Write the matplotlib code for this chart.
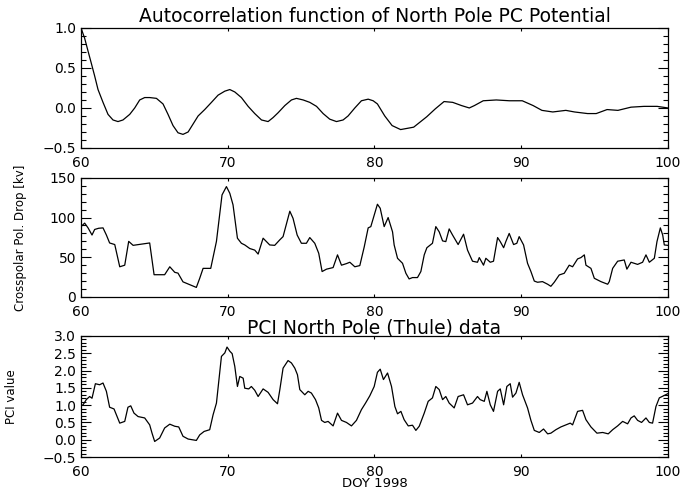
import matplotlib
matplotlib.use("Agg")
import matplotlib.pyplot as plt
import numpy as np
from matplotlib.ticker import MultipleLocator

# Autocorrelation of North Pole PC potential (lag in DOY)
acf_doy = [60.00, 60.25, 60.48, 60.70, 60.93, 61.16, 61.50, 61.84, 62.18, 62.52,
           62.86, 63.32, 63.66, 64.00, 64.34, 64.68, 65.14, 65.59, 65.93, 66.27,
           66.61, 66.95, 67.30, 67.64, 67.98, 68.43, 68.89, 69.34, 69.80, 70.14,
           70.48, 70.93, 71.39, 71.84, 72.30, 72.75, 73.09, 73.43, 73.89, 74.34,
           74.68, 75.14, 75.59, 76.05, 76.50, 76.95, 77.41, 77.86, 78.20, 78.66,
           79.11, 79.57, 79.91, 80.20, 80.70, 81.20, 81.78, 82.67, 83.56, 84.15,
           84.74, 85.33, 85.93, 86.46, 86.81, 87.41, 88.30, 89.19, 90.07, 90.81,
           91.41, 92.15, 93.04, 93.63, 94.52, 95.11, 95.85, 96.59, 97.48, 98.37,
           99.26, 100.0]
acf_val = [1.00, 0.87, 0.71, 0.56, 0.40, 0.23, 0.07, -0.08, -0.15, -0.17,
           -0.15, -0.08, 0.00, 0.10, 0.13, 0.13, 0.12, 0.05, -0.08, -0.22,
           -0.31, -0.33, -0.30, -0.20, -0.10, -0.02, 0.07, 0.16, 0.21, 0.23,
           0.20, 0.13, 0.02, -0.07, -0.15, -0.17, -0.12, -0.06, 0.03, 0.10,
           0.12, 0.10, 0.07, 0.02, -0.07, -0.14, -0.17, -0.15, -0.10, 0.00,
           0.09, 0.11, 0.09, 0.05, -0.10, -0.22, -0.27, -0.24, -0.11, -0.01,
           0.08, 0.07, 0.03, 0.00, 0.03, 0.09, 0.10, 0.09, 0.09, 0.03,
           -0.03, -0.05, -0.03, -0.05, -0.07, -0.07, -0.02, -0.03, 0.01, 0.02,
           0.02, 0.00]

# Cross polar cap potential drop [kV]
pot_doy = [60.00, 60.25, 60.48, 60.75, 60.93, 61.20, 61.50, 61.73, 61.95, 62.30,
           62.64, 62.98, 63.25, 63.55, 64.68, 64.98, 65.70, 66.05, 66.39, 66.61,
           66.95, 67.86, 68.09, 68.32, 68.84, 69.23, 69.61, 69.91, 70.14, 70.36,
           70.66, 70.93, 71.16, 71.50, 71.84, 72.07, 72.41, 72.86, 73.20, 73.55,
           73.77, 74.23, 74.45, 74.73, 75.02, 75.36, 75.59, 75.93, 76.20, 76.43,
           76.73, 77.18, 77.48, 77.75, 78.09, 78.32, 78.66, 79.00, 79.30, 79.57,
           79.75, 79.98, 80.20, 80.39, 80.66, 80.93, 81.23, 81.34, 81.57, 81.91,
           82.14, 82.36, 82.59, 82.93, 83.16, 83.39, 83.57, 83.95, 84.18, 84.41,
           84.64, 84.86, 85.09, 85.32, 85.70, 86.07, 86.34, 86.68, 87.02, 87.14,
           87.43, 87.59, 87.89, 88.11, 88.39, 88.57, 88.80, 88.95, 89.18, 89.48,
           89.70, 89.86, 90.16, 90.43, 90.66, 90.89, 91.11, 91.45, 91.80, 92.02,
           92.25, 92.59, 92.93, 93.27, 93.50, 93.84, 94.07, 94.30, 94.41, 94.75,
           94.98, 95.43, 95.89, 96.00, 96.23, 96.57, 97.02, 97.20, 97.48, 97.93,
           98.27, 98.50, 98.73, 99.07, 99.25, 99.48, 99.64, 99.75, 99.98]
pot_val = [88.6, 93.0, 87.0, 78.0, 85.0, 86.5, 87.0, 78.0, 68.0, 66.0,
           38.0, 40.0, 70.0, 65.0, 68.0, 28.0, 28.0, 38.0, 31.0, 30.0,
           19.0, 12.0, 23.5, 36.0, 36.0, 70.0, 128.5, 139.0, 130.6, 116.0,
           74.0, 67.6, 65.5, 61.0, 59.0, 54.0, 74.0, 65.5, 65.0, 72.0,
           76.0, 108.0, 99.0, 78.0, 67.6, 67.6, 74.8, 67.6, 55.0, 32.0,
           35.0, 37.0, 53.0, 40.0, 42.0, 43.7, 38.0, 39.5, 63.0, 87.0,
           88.6, 103.0, 116.8, 111.7, 88.6, 100.0, 82.0, 65.5, 48.7, 42.4,
           29.8, 22.7, 24.4, 24.4, 32.0, 53.0, 62.0, 67.6, 88.6, 82.0,
           70.6, 69.7, 85.7, 78.0, 66.0, 79.0, 59.0, 45.0, 43.7, 49.6,
           40.0, 48.7, 43.7, 45.0, 74.8, 69.7, 62.0, 69.7, 80.0, 66.0,
           67.6, 76.0, 65.5, 42.4, 32.0, 20.0, 18.5, 19.3, 16.0, 13.4,
           18.5, 27.7, 29.8, 40.0, 38.0, 47.9, 49.6, 53.0, 40.0, 36.0,
           23.5, 19.3, 16.0, 19.3, 36.0, 45.0, 46.6, 35.0, 43.7, 41.0,
           43.7, 53.0, 43.7, 48.7, 69.7, 87.0, 78.0, 65.5, 65.0]

# PCI index, Thule
pci_doy = [60.00, 60.14, 60.36, 60.59, 60.75, 60.98, 61.27, 61.50, 61.73, 61.95,
           62.25, 62.41, 62.64, 62.98, 63.20, 63.39, 63.61, 63.89, 64.34, 64.68,
           64.84, 65.02, 65.36, 65.70, 66.05, 66.39, 66.66, 66.95, 67.30, 67.86,
           68.09, 68.39, 68.77, 69.00, 69.23, 69.57, 69.80, 69.95, 70.14, 70.30,
           70.48, 70.66, 70.82, 71.05, 71.16, 71.43, 71.61, 71.84, 72.07, 72.41,
           72.75, 73.09, 73.39, 73.55, 73.77, 74.11, 74.34, 74.57, 74.75, 74.91,
           75.25, 75.48, 75.70, 75.98, 76.20, 76.39, 76.61, 76.84, 77.18, 77.48,
           77.75, 78.09, 78.43, 78.77, 79.11, 79.39, 79.68, 79.98, 80.20, 80.39,
           80.61, 80.89, 81.16, 81.39, 81.57, 81.80, 82.02, 82.30, 82.59, 82.82,
           83.05, 83.39, 83.66, 83.95, 84.18, 84.41, 84.64, 84.86, 85.09, 85.43,
           85.70, 86.07, 86.34, 86.68, 87.02, 87.20, 87.48, 87.66, 87.89, 88.11,
           88.39, 88.57, 88.80, 89.02, 89.25, 89.41, 89.64, 89.86, 90.09, 90.43,
           90.66, 90.89, 91.23, 91.52, 91.80, 92.02, 92.36, 92.70, 93.05, 93.34,
           93.50, 93.84, 94.18, 94.41, 94.75, 95.16, 95.55, 95.93, 96.23, 96.57,
           96.91, 97.25, 97.48, 97.70, 97.93, 98.20, 98.50, 98.73, 98.95, 99.18,
           99.41, 99.70, 99.98]
pci_val = [0.98, 1.01, 1.16, 1.25, 1.20, 1.62, 1.59, 1.64, 1.40, 0.94,
           0.89, 0.72, 0.48, 0.53, 0.94, 0.98, 0.77, 0.67, 0.63, 0.43,
           0.19, -0.05, 0.05, 0.34, 0.45, 0.39, 0.37, 0.10, 0.02, -0.02,
           0.14, 0.24, 0.29, 0.72, 1.06, 2.41, 2.51, 2.68, 2.56, 2.49,
           2.12, 1.54, 1.83, 1.78, 1.49, 1.47, 1.54, 1.43, 1.25, 1.47,
           1.37, 1.16, 1.04, 1.45, 2.07, 2.29, 2.22, 2.07, 1.88, 1.45,
           1.30, 1.40, 1.35, 1.16, 0.92, 0.56, 0.50, 0.53, 0.40, 0.77,
           0.56, 0.50, 0.40, 0.56, 0.87, 1.06, 1.27, 1.54, 1.95, 2.04,
           1.74, 1.93, 1.54, 0.96, 0.75, 0.82, 0.58, 0.40, 0.42, 0.27,
           0.39, 0.77, 1.11, 1.21, 1.54, 1.45, 1.16, 1.25, 1.06, 0.92,
           1.25, 1.30, 1.01, 1.06, 1.25, 1.16, 1.11, 1.40, 1.01, 0.82,
           1.40, 1.47, 1.01, 1.54, 1.62, 1.23, 1.35, 1.66, 1.30, 0.92,
           0.56, 0.27, 0.21, 0.31, 0.17, 0.19, 0.29, 0.37, 0.43, 0.48,
           0.43, 0.82, 0.85, 0.58, 0.37, 0.19, 0.21, 0.17, 0.29, 0.40,
           0.53, 0.46, 0.63, 0.69, 0.56, 0.50, 0.63, 0.50, 0.48, 0.96,
           1.21, 1.27, 1.33]

plt.rcParams['font.family'] = 'DejaVu Sans'
plt.rcParams['font.size'] = 10

fig = plt.figure(figsize=(6.83, 4.90), dpi=100)

# axes boxes in figure fractions (left, bottom, width, height)
ax1 = fig.add_axes([0.1186, 0.698, 0.8594, 0.245])
ax2 = fig.add_axes([0.1186, 0.394, 0.8594, 0.243])
ax3 = fig.add_axes([0.1186, 0.0673, 0.8594, 0.247])


def idl_axes(ax, ymajor, yminor):
    ax.set_xlim(60, 100)
    ax.xaxis.set_major_locator(MultipleLocator(10))
    ax.yaxis.set_major_locator(MultipleLocator(ymajor))
    ax.yaxis.set_minor_locator(MultipleLocator(yminor))
    ax.tick_params(axis='y', which='major', direction='in', length=7.5, width=0.8,
                   left=True, right=True, pad=3.5)
    ax.tick_params(axis='y', which='minor', direction='in', length=3.8, width=0.8,
                   left=True, right=True)
    ax.tick_params(axis='x', which='major', direction='in', length=2.0, width=0.8,
                   top=True, bottom=True, pad=5.5)
    for s in ax.spines.values():
        s.set_linewidth(0.9)


ax1.plot(acf_doy, acf_val, color='black', lw=0.9)
idl_axes(ax1, 0.5, 0.1)
ax1.set_ylim(-0.5, 1.0)
ax1.yaxis.set_major_formatter(lambda v, p: f"{v:.1f}".replace('-', '\u2212'))
ax1.set_title("Autocorrelation function of North Pole PC Potential", fontsize=13.5, pad=4)

ax2.plot(pot_doy, pot_val, color='black', lw=0.9)
idl_axes(ax2, 50, 10)
ax2.set_ylim(0, 150)
ax2.set_ylabel("Crosspolar Pol. Drop [kv]", fontsize=8.5)
ax2.yaxis.set_label_coords(-0.092, 0.5)

ax3.plot(pci_doy, pci_val, color='black', lw=0.9)
idl_axes(ax3, 0.5, 0.1)
ax3.set_ylim(-0.5, 3.0)
ax3.yaxis.set_major_formatter(lambda v, p: f"{v:.1f}".replace('-', '\u2212'))
ax3.set_title("PCI North Pole (Thule) data", fontsize=13.5, pad=2)
ax3.set_ylabel("PCI value", fontsize=8.5)
ax3.yaxis.set_label_coords(-0.107, 0.5)
ax3.set_xlabel("DOY 1998", fontsize=9.5, labelpad=-1)

fig.savefig("out.png", dpi=100)
